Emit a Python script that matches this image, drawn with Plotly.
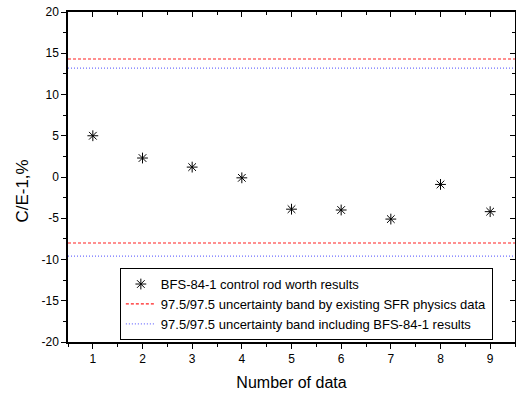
import plotly.graph_objects as go

# Data
data_index = [1, 2, 3, 4, 5, 6, 7, 8, 9]
ce_values = [5.0, 2.3, 1.2, -0.1, -3.9, -4.0, -5.1, -0.9, -4.2]
band_existing = [14.3, -8.0]      # 97.5/97.5 band by existing SFR physics data
band_including = [13.2, -9.6]     # 97.5/97.5 band including BFS-84-1 results
x_range = [0.5, 9.5]
y_range = [-20, 20]
x_ticks = [1, 2, 3, 4, 5, 6, 7, 8, 9]
y_ticks = [-20, -15, -10, -5, 0, 5, 10, 15, 20]
y_tick_labels = ["-20", "-15", "-10", "-5", "0", "5", "10", "15", "20"]

names = [
    "BFS-84-1 control rod worth results",
    "97.5/97.5 uncertainty band by existing SFR physics data",
    "97.5/97.5 uncertainty band including BFS-84-1 results",
]
x_title = "Number of data"
y_title = "C/E-1,%"

FONT = "Liberation Sans, Arial, sans-serif"

def band_xy(vals):
    xs, ys = [], []
    for v in vals:
        xs += [x_range[0], x_range[1], None]
        ys += [v, v, None]
    return xs, ys

fig = go.Figure()

fig.add_trace(go.Scatter(
    x=data_index, y=ce_values, mode="markers", name=names[0],
    marker=dict(symbol="asterisk-open", size=9, color="black",
                line=dict(color="black", width=1)),
))
bx, by = band_xy(band_existing)
fig.add_trace(go.Scatter(
    x=bx, y=by, mode="lines", name=names[1],
    line=dict(color="#ff2020", width=1.2, dash="3px,2px"),
))
bx, by = band_xy(band_including)
fig.add_trace(go.Scatter(
    x=bx, y=by, mode="lines", name=names[2],
    line=dict(color="#7070ff", width=1.2, dash="1px,2px"),
))
# invisible trace to activate mirrored (top/right) axes
fig.add_trace(go.Scatter(
    x=data_index, y=ce_values, xaxis="x2", yaxis="y2", mode="markers",
    marker=dict(opacity=0), showlegend=False, hoverinfo="skip",
))

fig.update_layout(
    width=516, height=394,
    margin=dict(l=68, r=1, t=12, b=52),
    paper_bgcolor="white", plot_bgcolor="white",
    font=dict(family=FONT, size=12, color="black"),
    showlegend=True,
    legend=dict(
        x=0.116, y=0.224, xanchor="left", yanchor="top",
        bordercolor="black", borderwidth=1, bgcolor="white",
        font=dict(family=FONT, size=13, color="black"),
        tracegroupgap=0,
    ),
    xaxis=dict(
        range=x_range, tickvals=x_ticks, ticks="outside", ticklen=5,
        tickwidth=1, tickcolor="black", showline=True, linecolor="black",
        linewidth=1.5, showgrid=False, zeroline=False, automargin=False,
        minor=dict(dtick=0.5, tick0=0.5, ticks="outside", ticklen=3,
                   tickcolor="black", showgrid=False),
        title=dict(text=x_title, font=dict(size=16), standoff=12),
        tickfont=dict(size=12),
    ),
    yaxis=dict(
        range=y_range, tickvals=y_ticks, ticktext=y_tick_labels,
        ticks="outside", ticklen=5,
        tickwidth=1, tickcolor="black", showline=True, linecolor="black",
        linewidth=1.5, showgrid=False, zeroline=False, automargin=False,
        minor=dict(dtick=2.5, ticks="outside", ticklen=3,
                   tickcolor="black", showgrid=False),
        tickfont=dict(size=12),
    ),
    xaxis2=dict(
        overlaying="x", side="top", range=x_range, tickvals=x_ticks,
        ticks="inside", ticklen=5, tickcolor="black", showticklabels=False,
        showline=True, linecolor="black", linewidth=1.5, showgrid=False,
        zeroline=False, automargin=False,
        minor=dict(dtick=0.5, tick0=0.5, ticks="inside", ticklen=3,
                   tickcolor="black", showgrid=False),
    ),
    yaxis2=dict(
        overlaying="y", side="right", range=y_range, tickvals=y_ticks,
        ticks="inside", ticklen=5, tickcolor="black", showticklabels=False,
        showline=True, linecolor="black", linewidth=1.5, showgrid=False,
        zeroline=False, automargin=False,
        minor=dict(dtick=2.5, ticks="inside", ticklen=3,
                   tickcolor="black", showgrid=False),
    ),
    annotations=[dict(
        text=y_title, textangle=-90, xref="paper", yref="paper",
        x=-0.102, y=0.457, xanchor="center", yanchor="middle",
        showarrow=False, font=dict(family=FONT, size=17, color="black"),
    )],
)

fig.write_html(
    "out.html",
    config={"displayModeBar": False},
    post_script="document.body.style.margin='0';document.body.style.overflow='hidden';",
)
